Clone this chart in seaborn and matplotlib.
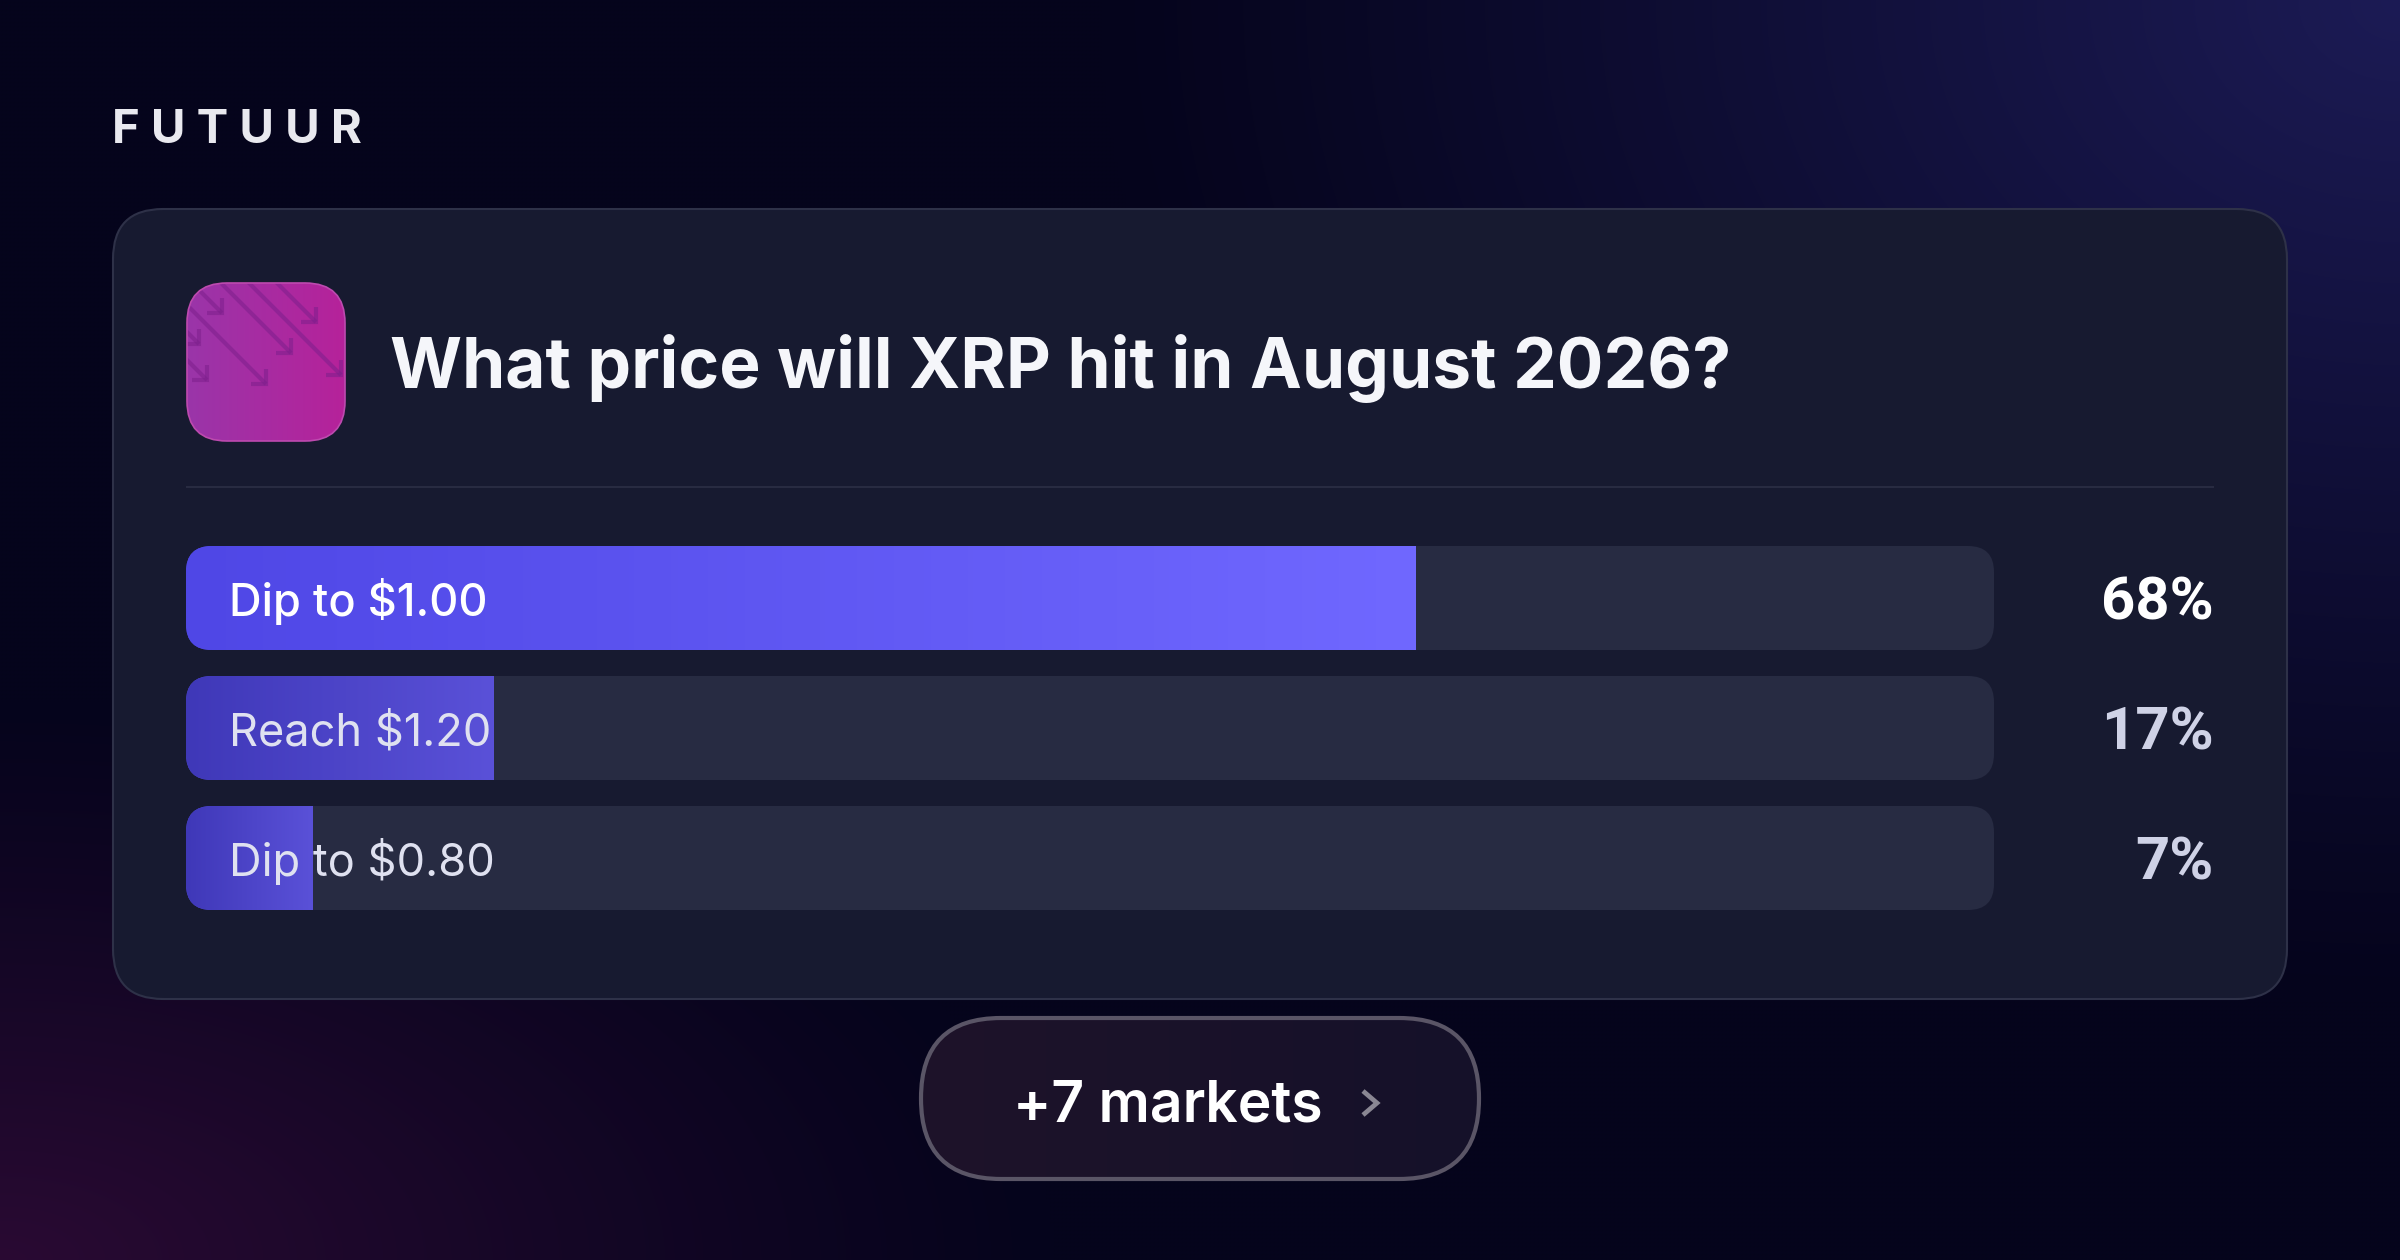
import numpy as np
import matplotlib
matplotlib.use("Agg")
import matplotlib.pyplot as plt
from matplotlib.colors import to_rgb
from matplotlib.patches import FancyBboxPatch
import seaborn as sns

BRAND = "F U T U U R"
TITLE = "What price will XRP hit in August 2026?"
MORE = "+7 markets"
markets = ["Dip to $1.00", "Reach $1.20", "Dip to $0.80"]
probabilities = [68, 17, 7]
track_max = [100, 100, 100]

W, H = 2400, 1260
sns.set_theme(style="white")
plt.rcParams["font.family"] = ["Inter", "DejaVu Sans"]

fig = plt.figure(figsize=(W / 100, H / 100), dpi=100)
bg = fig.add_axes([0, 0, 1, 1])
bg.set_xlim(0, W)
bg.set_ylim(H, 0)
bg.axis("off")

# page background
yy, xx = np.mgrid[0:H:4, 0:W:4]
base = np.array(to_rgb("#05041c"))
blue = np.array(to_rgb("#1c1b55"))
purple = np.array(to_rgb("#2a0a33"))
d_blue = np.clip(1 - np.hypot((xx - W) / 1300, yy / 1000), 0, 1)[..., None]
d_purple = np.clip(1 - np.hypot(xx / 1050, (H - yy) / 560), 0, 1)[..., None]
img = base + (blue - base) * d_blue ** 1.1 + (purple - base) * d_purple ** 1.1
bg.imshow(np.clip(img, 0, 1), extent=[0, W, H, 0], aspect="auto", zorder=0, interpolation="bilinear")
bg.set_xlim(0, W)
bg.set_ylim(H, 0)


def rounded(x0, y0, x1, y1, r, **kw):
    p = FancyBboxPatch((x0, y0), x1 - x0, y1 - y0,
                       boxstyle=f"round,pad=0,rounding_size={r}", **kw)
    p.set_transform(bg.transData)
    return p


def gradient(ax, extent, c0, c1, clip, zorder):
    c0, c1 = np.array(to_rgb(c0)), np.array(to_rgb(c1))
    t = np.linspace(0, 1, 256)[None, :, None]
    im = ax.imshow(c0 + (c1 - c0) * t, extent=extent, aspect="auto", zorder=zorder,
                   interpolation="bilinear")
    im.set_clip_path(clip)
    return im


# card
bg.add_patch(rounded(113, 209, 2287, 999, 50, fc="#171a30", ec="#2e3148", lw=1.5, zorder=1))

# icon
icon_clip = rounded(187, 283, 345, 441, 40)
gradient(bg, [187, 345, 441, 283], "#9a35a9", "#b6229a", icon_clip, 2)
arrows = [(222, 313, 22), (291, 353, 72), (341, 375, 96), (316, 322, 42),
          (199, 344, 30), (207, 380, 26), (266, 384, 82)]
for tx, ty, L in arrows:
    for xs, ys in [((tx - L, tx), (ty - L, ty)), ((tx - 15, tx, tx), (ty, ty, ty - 15))]:
        ln = bg.plot(xs, ys, color="#7d1f8c", alpha=0.55, lw=3, zorder=3,
                     solid_capstyle="butt", solid_joinstyle="miter")[0]
        ln.set_clip_path(icon_clip)
bg.add_patch(rounded(187, 283, 345, 441, 40, fc="none", ec="#bd4aaf", lw=1.2, zorder=4))
bg.set_xlim(0, W)
bg.set_ylim(H, 0)

# divider
bg.plot([186, 2214], [487, 487], color="#282b41", lw=1.5, zorder=2, solid_capstyle="butt")

# brand and title
bg.text(112, 143, BRAND, color="#e9e9ef", fontsize=34, fontweight="bold",
        va="baseline", ha="left", zorder=5)
bg.text(390, 388, TITLE, color="#f5f6fa", fontsize=50, fontweight="bold",
        va="baseline", ha="left", zorder=5)

# bars: 0..100 maps onto the track width, one category per row
BAR_L, BAR_R = 186, 1994
ROW0, PITCH = 598, 130
top = ROW0 - PITCH / 2
ax = fig.add_axes([BAR_L / W, 1 - (top + 3 * PITCH) / H, (BAR_R - BAR_L) / W, 3 * PITCH / H], zorder=2)
ax.patch.set_alpha(0)
sns.barplot(x=track_max, y=markets, orient="h", color="#272b42", width=0.8, saturation=1,
            linewidth=0, edgecolor="none", ax=ax, zorder=1)
n_track = len(ax.patches)
sns.barplot(x=probabilities, y=markets, orient="h", color="#4f46e5", width=0.8, saturation=1,
            linewidth=0, edgecolor="none", ax=ax, zorder=2)
ax.set_xlim(0, 100)
ax.set_ylim(2.5, -0.5)
ax.axis("off")

starts = ["#4f47e6", "#3f38b8", "#3f38b8"]
ends = ["#7068ff", "#5a51d8", "#5a51d8"]
track_bars = ax.patches[:n_track]
fill_bars = ax.patches[n_track:]
for i, (t, f) in enumerate(zip(track_bars, fill_bars)):
    yc = ROW0 + i * PITCH
    clip = rounded(BAR_L, yc - 52, BAR_R, yc + 52, 26)
    t.set_clip_path(clip)
    f.set_clip_path(clip)
    x0, w, y0, h = f.get_x(), f.get_width(), f.get_y(), f.get_height()
    gradient(ax, [x0, x0 + w, y0 + h, y0], starts[i], ends[i], clip, 3)
ax.set_xlim(0, 100)
ax.set_ylim(2.5, -0.5)

for i, (name, p) in enumerate(zip(markets, probabilities)):
    yc = ROW0 + i * PITCH
    ax.text(229, yc + 18, name, transform=bg.transData,
            color="#ffffff" if i == 0 else "#dfe1f0",
            fontsize=32.5, fontweight="medium" if i == 0 else "normal",
            va="baseline", ha="left", zorder=5)
    ax.text(2214, yc + 22, f"{p}%", transform=bg.transData,
            color="#ffffff" if i == 0 else "#cfd2e6",
            family=["Roboto", "DejaVu Sans"], fontsize=43, fontweight="bold",
            va="baseline", ha="right", zorder=5)

# button
btn_clip = rounded(921, 1018, 1479, 1179, 80)
gradient(bg, [921, 1479, 1179, 1018], "#1e1329", "#15112a", btn_clip, 2)
bg.add_patch(rounded(921, 1018, 1479, 1179, 80, fc="none", ec="#5a5566", lw=3, zorder=3))
bg.set_xlim(0, W)
bg.set_ylim(H, 0)
bg.text(1013, 1122, MORE, color="#ffffff", fontsize=41, fontweight="semibold",
        va="baseline", ha="left", zorder=5)
bg.plot([1363, 1377, 1363], [1091, 1103, 1115], color="#8a8793", lw=3.4, zorder=5,
        solid_joinstyle="miter", solid_capstyle="butt")

fig.savefig("out.png", dpi=100, facecolor="#05041c")
